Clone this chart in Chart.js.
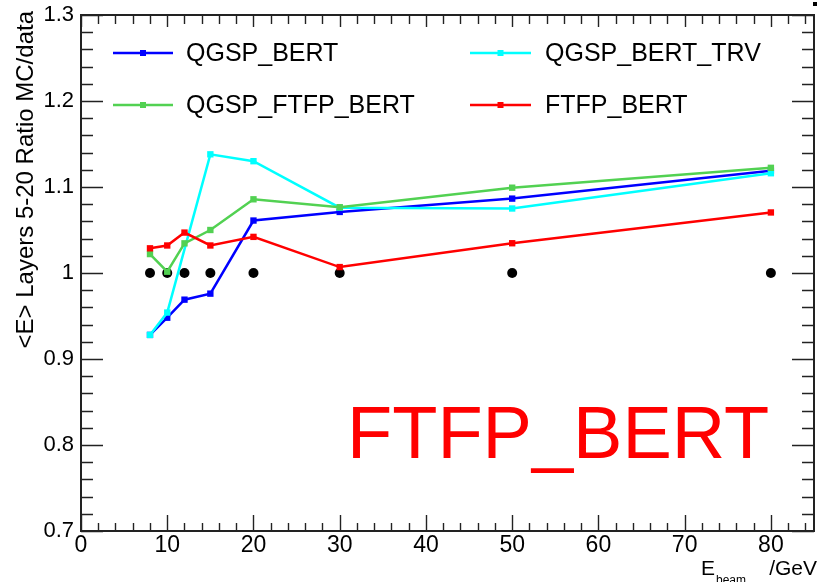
<!DOCTYPE html>
<html><head><meta charset="utf-8">
<script src="https://cdn.jsdelivr.net/npm/chart.js@4"></script>
<style>html,body{margin:0;padding:0;background:#fff}#wrap{width:819px;height:582px;position:relative}</style>
</head><body><div id="wrap"><canvas id="c" width="819" height="582"></canvas></div>
<script>
// ---- data ----
const energies = [8, 10, 12, 15, 20, 30, 50, 80];
const qgspBert     = [0.928, 0.948, 0.969, 0.976, 1.061, 1.071, 1.0865, 1.119];
const qgspBertTrv  = [0.928, 0.954, null, 1.138, 1.130, 1.076, 1.075, 1.116];
const qgspFtfpBert = [1.022, 1.0015, 1.0345, 1.050, 1.0857, 1.0765, 1.0992, 1.1223];
const ftfpBert     = [1.0287, 1.032, 1.047, 1.032, 1.042, 1.0069, 1.0346, 1.0704];
const dataRef      = [1, 1, 1, 1, 1, 1, 1, 1];
const seriesNames  = ['QGSP_BERT', 'QGSP_BERT_TRV', 'QGSP_FTFP_BERT', 'FTFP_BERT'];
const xTickValues  = [0, 10, 20, 30, 40, 50, 60, 70, 80];
const xTickLabels  = ['0', '10', '20', '30', '40', '50', '60', '70', '80'];
const yTickValues  = [0.7, 0.8, 0.9, 1.0, 1.1, 1.2, 1.3];
const yTickLabels  = ['0.7', '0.8', '0.9', '1', '1.1', '1.2', '1.3'];
const xRange = [0, 85];
const yRange = [0.7, 1.3];
const yTitle = '<E> Layers 5-20 Ratio MC/data';
const xTitleMain = 'E', xTitleSub = 'beam', xTitleUnit = '/GeV';
const overlayText = 'FTFP_BERT';

// ---- style ----
const FONT = '"Liberation Sans", Arial, Helvetica, sans-serif';
const COLORS = { qb: '#0000ff', qbt: '#00ffff', qfb: '#52d152', fb: '#ff0000', data: '#000000' };
const X_MINOR = 2, Y_MINOR = 0.02;

function pts(vals) { return energies.map((e, i) => ({ x: e, y: vals[i] })); }
function lineDs(label, vals, color) {
  return { label, data: pts(vals), borderColor: color, backgroundColor: color, borderWidth: 2.5,
    pointStyle: 'rect', pointRadius: 4.5, pointBorderWidth: 0, tension: 0, spanGaps: true };
}

const legendEntries = [
  { name: seriesNames[0], color: COLORS.qb,  col: 0, row: 0 },
  { name: seriesNames[1], color: COLORS.qbt, col: 1, row: 0 },
  { name: seriesNames[2], color: COLORS.qfb, col: 0, row: 1 },
  { name: seriesNames[3], color: COLORS.fb,  col: 1, row: 1 }
];

const decor = {
  id: 'decor',
  afterDraw(chart) {
    const { ctx, chartArea: a, scales: { x, y } } = chart;
    ctx.save();
    // ticks
    ctx.strokeStyle = '#222'; ctx.lineWidth = 1.4;
    ctx.beginPath();
    const nx = Math.round((x.max - x.min) / X_MINOR);
    for (let i = 0; i <= nx; i++) {
      const v = x.min + i * X_MINOR;
      const major = xTickValues.some(t => Math.abs(t - v) < 1e-6);
      const px = Math.round(x.getPixelForValue(v)) + 0.5;
      const lb = major ? 16 : 8, lt = major ? 12 : 9;
      ctx.moveTo(px, a.bottom); ctx.lineTo(px, a.bottom - lb);
      ctx.moveTo(px, a.top); ctx.lineTo(px, a.top + lt);
    }
    const ny = Math.round((y.max - y.min) / Y_MINOR);
    for (let i = 0; i <= ny; i++) {
      const v = y.min + i * Y_MINOR;
      const major = yTickValues.some(t => Math.abs(t - v) < 1e-6);
      const py = Math.round(y.getPixelForValue(v)) + 0.5;
      const l = major ? 22 : 12;
      ctx.moveTo(a.left, py); ctx.lineTo(a.left + l, py);
      ctx.moveTo(a.right, py); ctx.lineTo(a.right - l, py);
    }
    ctx.stroke();
    // frame
    ctx.lineWidth = 2; ctx.strokeStyle = '#222';
    ctx.strokeRect(a.left, a.top, a.right - a.left, a.bottom - a.top);

    // legend
    const colX = [{ l1: 113, l2: 173, tx: 186 }, { l1: 470, l2: 531, tx: 545 }];
    const rowY = [53, 105];
    ctx.font = '25px ' + FONT; ctx.textBaseline = 'middle'; ctx.textAlign = 'left';
    legendEntries.forEach(e => {
      const c = colX[e.col], yy = rowY[e.row];
      ctx.strokeStyle = e.color; ctx.lineWidth = 2.5;
      ctx.beginPath(); ctx.moveTo(c.l1, yy); ctx.lineTo(c.l2, yy); ctx.stroke();
      ctx.fillStyle = e.color;
      const mx = (c.l1 + c.l2) / 2;
      ctx.fillRect(mx - 3, yy - 3, 6, 6);
      ctx.fillStyle = '#000';
      ctx.fillText(e.name, c.tx, yy + 1);
    });

    // overlay text
    ctx.fillStyle = '#ff0000'; ctx.font = '74px ' + FONT; ctx.textBaseline = 'alphabetic';
    ctx.fillText(overlayText, 347, 458);

    // y title
    ctx.save();
    ctx.fillStyle = '#000'; ctx.font = '24px ' + FONT;
    ctx.translate(33, 11); ctx.rotate(-Math.PI / 2);
    ctx.textAlign = 'right'; ctx.textBaseline = 'alphabetic';
    ctx.fillText(yTitle, 0, 0);
    ctx.restore();

    // x title
    ctx.fillStyle = '#000'; ctx.textBaseline = 'alphabetic';
    ctx.font = '21px ' + FONT; ctx.textAlign = 'right';
    ctx.fillText(xTitleUnit, 817, 575);
    ctx.textAlign = 'left';
    ctx.fillText(xTitleMain, 701, 575);
    ctx.font = '12px ' + FONT;
    ctx.fillText(xTitleSub, 716, 584);

    // small corner mark
    ctx.fillStyle = '#000'; ctx.fillRect(813, 2, 4, 4);
    ctx.restore();
  }
};

new Chart(document.getElementById('c'), {
  type: 'line',
  data: {
    datasets: [
      lineDs(seriesNames[3], ftfpBert, COLORS.fb),
      lineDs(seriesNames[2], qgspFtfpBert, COLORS.qfb),
      lineDs(seriesNames[1], qgspBertTrv, COLORS.qbt),
      lineDs(seriesNames[0], qgspBert, COLORS.qb),
      { label: 'data', data: pts(dataRef), showLine: false, pointStyle: 'circle', pointRadius: 5,
        pointBorderWidth: 0, backgroundColor: COLORS.data, borderColor: COLORS.data }
    ]
  },
  options: {
    responsive: false, animation: false, devicePixelRatio: 1,
    layout: { padding: { top: 15, right: 2, left: 0, bottom: 0 } },
    plugins: { legend: { display: false }, tooltip: { enabled: false } },
    scales: {
      x: {
        type: 'linear', min: xRange[0], max: xRange[1],
        afterBuildTicks: s => { s.ticks = xTickValues.map(v => ({ value: v })); },
        afterFit: s => { s.height = 51; s.paddingLeft = 0; s.paddingRight = 0; },
        grid: { display: false, drawTicks: false }, border: { display: false },
        ticks: { padding: 1, maxRotation: 0, autoSkip: false, color: '#000', font: { family: FONT, size: 23 },
          callback: (v) => { const i = xTickValues.findIndex(t => Math.abs(t - v) < 1e-6); return i >= 0 ? xTickLabels[i] : ''; } }
      },
      y: {
        type: 'linear', min: yRange[0], max: yRange[1],
        afterBuildTicks: s => { s.ticks = yTickValues.map(v => ({ value: v })); },
        afterFit: s => { s.width = 81; s.paddingTop = 0; s.paddingBottom = 0; },
        grid: { display: false, drawTicks: false }, border: { display: false },
        ticks: { padding: 7, autoSkip: false, color: '#000', font: { family: FONT, size: 22 },
          callback: (v) => { const i = yTickValues.findIndex(t => Math.abs(t - v) < 1e-6); return i >= 0 ? yTickLabels[i] : ''; } }
      }
    }
  },
  plugins: [decor]
});
</script></body></html>
